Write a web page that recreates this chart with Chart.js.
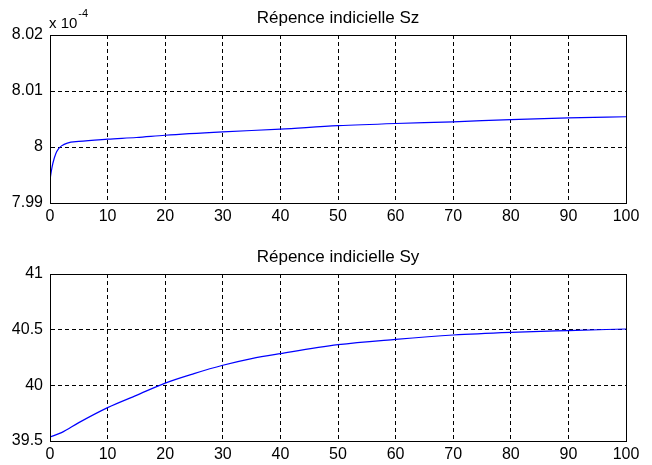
<!DOCTYPE html>
<html>
<head>
<meta charset="utf-8">
<script src="https://cdn.jsdelivr.net/npm/chart.js@4/dist/chart.umd.min.js"></script>
<style>
  html, body { margin: 0; padding: 0; background: #fff; }
  #wrap { position: relative; width: 652px; height: 465px; }
  canvas { position: absolute; left: 0; }
  #cSz { top: 0; }
  #cSy { top: 232px; }
</style>
</head>
<body>
<div id="wrap">
  <canvas id="cSz" width="652" height="232"></canvas>
  <canvas id="cSy" width="652" height="233"></canvas>
</div>
<script>
// step response data (Sz shown in units of 1e-4)
const timeSz = [0, 0.25, 0.5, 1, 1.5, 2, 3, 5, 10, 15, 20, 30, 40, 50, 60, 70, 80, 90, 100];
const valuesSz = [7.9941, 7.9958, 7.9971, 7.9988, 7.9997, 8.0002, 8.0007, 8.0010, 8.0014, 8.0017,
  8.0021, 8.0027, 8.0032, 8.0038, 8.0042, 8.0045, 8.0049, 8.0052, 8.0054];

const timeSy = [0, 2, 5, 10, 15, 20, 25, 30, 35, 40, 50, 60, 70, 80, 90, 100];
const valuesSy = [39.536, 39.575, 39.665, 39.80, 39.91, 40.02, 40.105, 40.18, 40.24, 40.285,
  40.365, 40.413, 40.452, 40.476, 40.492, 40.506];

const titleSz = "Répence indicielle Sz";
const titleSy = "Répence indicielle Sy";
const xTicks = { min: 0, max: 100, step: 10 };
const yTicksSz = { min: 7.99, max: 8.02, step: 0.01 };
const yTicksSy = { min: 39.5, max: 41, step: 0.5 };

const FONT = "'Liberation Sans', Arial, sans-serif";

// closed box around the plot area, like matlab axes
const boxPlugin = {
  id: "box",
  afterDraw(chart) {
    const a = chart.chartArea, ctx = chart.ctx;
    ctx.save();
    ctx.strokeStyle = "#000";
    ctx.lineWidth = 1;
    ctx.strokeRect(Math.round(a.left) + 0.5, Math.round(a.top) + 0.5,
      Math.round(a.right - a.left), Math.round(a.bottom - a.top));
    ctx.restore();
  }
};

// title centred over the plot area (chart.js centres on the whole canvas)
const axesTitlePlugin = {
  id: "axesTitle",
  afterDraw(chart, args, opts) {
    const a = chart.chartArea, ctx = chart.ctx;
    ctx.save();
    ctx.fillStyle = "#000";
    ctx.font = "17px " + FONT;
    ctx.textAlign = "center";
    ctx.textBaseline = "middle";
    ctx.fillText(opts.text, (a.left + a.right) / 2, a.top - opts.gap);
    ctx.restore();
  }
};

// "x 10^-4" exponent label above the Sz axis
const exponentPlugin = {
  id: "exponent",
  afterDraw(chart) {
    const a = chart.chartArea, ctx = chart.ctx;
    ctx.save();
    ctx.fillStyle = "#000";
    ctx.textBaseline = "alphabetic";
    ctx.font = "15px " + FONT;
    ctx.fillText("x 10", a.left - 1, a.top - 7);
    const w = ctx.measureText("x 10").width;
    ctx.font = "11px " + FONT;
    ctx.fillText("-4", a.left + w, a.top - 18);
    ctx.restore();
  }
};

function fmt(v) {
  return String(Number(v.toFixed(3)));
}

function makeChart(id, xs, ys, title, yt, cfg) {
  const points = xs.map((x, i) => ({ x, y: ys[i] }));
  return new Chart(document.getElementById(id), {
    type: "line",
    data: {
      datasets: [{
        data: points,
        borderColor: "#0000ff",
        borderWidth: 1.2,
        pointRadius: 0,
        fill: false,
        cubicInterpolationMode: "monotone",
      }]
    },
    options: {
      responsive: false,
      animation: false,
      events: [],
      layout: { padding: { left: 0, right: 26, top: cfg.top, bottom: 0 } },
      plugins: {
        legend: { display: false },
        tooltip: { enabled: false },
        title: { display: false },
        axesTitle: { text: title, gap: cfg.titleGap },
      },
      scales: {
        x: {
          type: "linear",
          min: xTicks.min, max: xTicks.max,
          afterFit(s) { s.height = cfg.xHeight; },
          ticks: {
            stepSize: xTicks.step,
            color: "#000",
            padding: 4,
            maxRotation: 0,
            font: { family: FONT, size: 16 },
            callback: (v) => fmt(v),
          },
          grid: { color: "#000", lineWidth: 1, drawTicks: false },
          border: { display: true, color: "#000", dash: [4, 3] },
        },
        y: {
          type: "linear",
          min: yt.min, max: yt.max,
          afterFit(s) { s.width = 50; },
          ticks: {
            stepSize: yt.step,
            color: "#000",
            padding: 7,
            font: { family: FONT, size: 16 },
            callback: (v) => fmt(v),
          },
          grid: { color: "#000", lineWidth: 1, drawTicks: false },
          border: { display: true, color: "#000", dash: [4, 3] },
        },
      },
    },
    plugins: cfg.extra ? [boxPlugin, axesTitlePlugin, cfg.extra] : [boxPlugin, axesTitlePlugin],
  });
}

makeChart("cSz", timeSz, valuesSz, titleSz, yTicksSz,
  { top: 35, titleGap: 17, xHeight: 29, extra: exponentPlugin });
makeChart("cSy", timeSy, valuesSy, titleSy, yTicksSy,
  { top: 42, titleGap: 17, xHeight: 24 });
</script>
</body>
</html>
